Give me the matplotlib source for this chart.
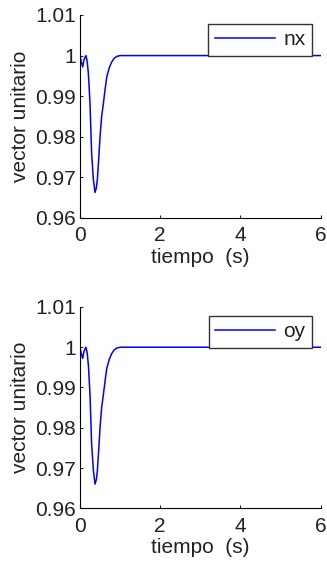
import matplotlib.pyplot as plt

plt.rcParams['font.family'] = ['Liberation Sans', 'DejaVu Sans']

# Unit vector components over time
t = [0, 0.03, 0.067, 0.1, 0.15, 0.18, 0.21, 0.25, 0.29, 0.333, 0.375, 0.41,
     0.433, 0.47, 0.5, 0.54, 0.583, 0.63, 0.667, 0.73, 0.79, 0.85, 0.92, 1.0, 6.0]
nx = [1.0, 0.9985, 0.9972, 0.9990, 1.0, 0.9985, 0.9955, 0.9882, 0.976, 0.9695,
      0.9663, 0.9675, 0.9695, 0.9750, 0.980, 0.9850, 0.9882, 0.9920, 0.9947,
      0.9970, 0.9984, 0.9993, 0.9998, 1.0, 1.0]
oy = [1.0, 0.9985, 0.9972, 0.9990, 1.0, 0.9985, 0.9955, 0.9882, 0.976, 0.9695,
      0.9660, 0.9672, 0.9693, 0.9750, 0.980, 0.9850, 0.9882, 0.9920, 0.9947,
      0.9970, 0.9984, 0.9993, 0.9998, 1.0, 1.0]

xticks = [0, 2, 4, 6]
yticks = [0.96, 0.97, 0.98, 0.99, 1.0, 1.01]
yticklabels = ['0.96', '0.97', '0.98', '0.99', '1', '1.01']

fig = plt.figure(figsize=(3.27, 5.65), dpi=100)
ax1 = fig.add_axes([0.2446, 0.6142, 0.736, 0.3593])
ax2 = fig.add_axes([0.2446, 0.1004, 0.736, 0.3563])

for ax, y, name in [(ax1, nx, 'nx'), (ax2, oy, 'oy')]:
    ax.plot(t, y, color='#0000ff', lw=1.1, label=name)
    ax.set_xlim(0, 6)
    ax.set_ylim(0.96, 1.01)
    ax.set_xticks(xticks)
    ax.set_yticks(yticks)
    ax.set_yticklabels(yticklabels)
    ax.spines['top'].set_visible(False)
    ax.spines['right'].set_visible(False)
    ax.tick_params(direction='in', length=2.5, labelsize=15, colors='#222222')
    ax.tick_params(axis='x', pad=6)
    ax.tick_params(axis='y', pad=3)
    ax.set_xlabel('tiempo  (s)', fontsize=15, color='#222222', labelpad=2)
    ax.set_ylabel('vector unitario', fontsize=15, color='#222222', labelpad=4)
    leg = ax.legend(loc='upper right', bbox_to_anchor=(0.964, 0.955), fontsize=15,
                    fancybox=False, framealpha=1, edgecolor='#333333',
                    handlelength=2.9, handletextpad=0.4, borderpad=0.3,
                    borderaxespad=0)
    leg.get_frame().set_linewidth(1.0)
    for txt in leg.get_texts():
        txt.set_color('#222222')

fig.savefig('out.png', dpi=100)
